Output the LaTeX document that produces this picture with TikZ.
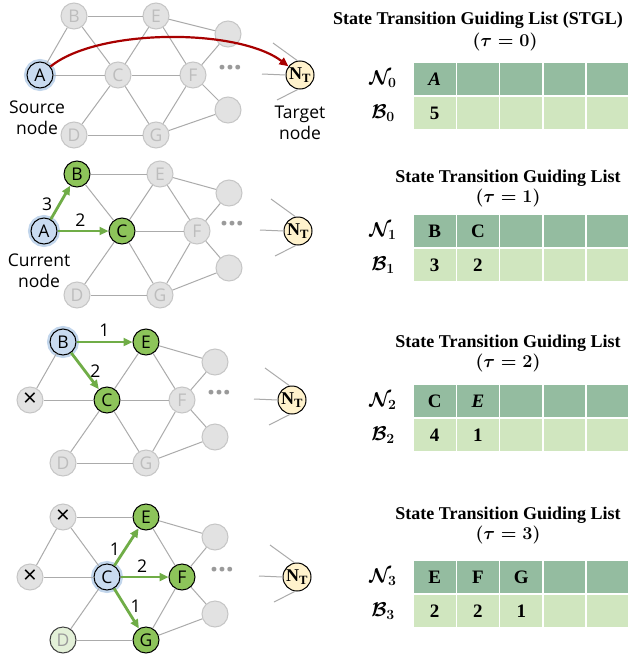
\documentclass[tikz,border=0pt]{standalone}
\usepackage{fix-cm}
\usepackage{amsmath, amssymb}
\usepackage{fontspec}
\setmainfont{Open Sans}
\newfontfamily\tabfont{Liberation Serif}
\usepackage{tikz}
\usetikzlibrary{arrows.meta, calc}

\definecolor{edgegray}{HTML}{ABABAB}
\definecolor{idlefill}{HTML}{E2E2E2}
\definecolor{idledraw}{HTML}{C6C6C6}
\definecolor{idletext}{HTML}{BDBDBD}
\definecolor{srcfill}{HTML}{C9DBF0}
\definecolor{halo}{HTML}{C2D6EC}
\definecolor{reachfill}{HTML}{8DC45A}
\definecolor{spentfill}{HTML}{E3F0D8}
\definecolor{spenttext}{HTML}{9A9A9A}
\definecolor{goalfill}{HTML}{FFF2CC}
\definecolor{hopgreen}{HTML}{70AD47}
\definecolor{leadred}{HTML}{A80000}
\definecolor{dotgray}{HTML}{9A9A9A}
\definecolor{celldark}{HTML}{94BCA0}
\definecolor{celllight}{HTML}{D0E6BF}

\begin{document}
\begin{tikzpicture}[
    x=1pt, y=-1pt,
    vtx/.style={circle, minimum size=26pt, inner sep=0pt, line width=1pt, font=\fontsize{17.5}{18}\selectfont},
    idle/.style={vtx, draw=idledraw, fill=idlefill, text=idletext},
    gone/.style={idle, text=black, font=\fontsize{24}{24}\selectfont},
    src/.style={vtx, draw=black, fill=srcfill, preaction={draw=halo, line width=6pt}},
    reach/.style={vtx, draw=black, fill=reachfill},
    spent/.style={vtx, draw=black!75, fill=spentfill, text=spenttext},
    goal/.style={circle, minimum size=28pt, inner sep=0pt, draw=black, fill=goalfill, line width=1pt, font=\tabfont\bfseries\fontsize{18}{18}\selectfont},
    edge/.style={draw=edgegray, line width=1pt},
    hop/.style={draw=hopgreen, line width=2.8pt, -{Triangle[length=9pt, width=8pt]}},
    lead/.style={draw=leadred, line width=2.2pt, -{Triangle[length=9pt, width=8pt]}},
    wt/.style={font=\fontsize{17.5}{18}\selectfont, inner sep=1pt},
    tag/.style={font=\fontsize{17.5}{21}\selectfont, align=center},
    more/.style={text=dotgray, font=\bfseries\fontsize{28}{28}\selectfont, inner sep=0pt},
    ttl/.style={font=\tabfont\bfseries\fontsize{18}{20}\selectfont\boldmath, inner sep=0pt},
    rowlbl/.style={font=\fontsize{20}{20}\selectfont\boldmath},
    ncell/.style={minimum width=43.3pt, minimum height=34pt, inner sep=0pt, draw=white, line width=1.5pt, fill=celldark, font=\tabfont\bfseries\fontsize{19}{19}\selectfont},
    bcell/.style={ncell, fill=celllight}
]
\useasboundingbox (0,0) rectangle (628,656);
\fill[white] (0,0) rectangle (628,656);

% tau = 0: source and target
\begin{scope}[shift={(118,75)}]
\node[src]  (A1) at (-78,0)   {A};
\node[idle] (B1) at (-44,-59) {B};
\node[idle] (C1) at (0,0)     {C};
\node[idle] (D1) at (-44,60)  {D};
\node[idle] (E1) at (38,-59)  {E};
\node[idle] (F1) at (75,0)    {F};
\node[idle] (G1) at (38,60)   {G};
\node[idle] (U1) at (110,-41) {};
\node[idle] (V1) at (110,35)  {};
\node[more] (M1) at (112,-4)  {···};
\node[goal] (T1) at (182,0)   {N\textsubscript{T}};
\node[tag]  (src1) at (-81,42.5) {Source\\node};
\node[tag]  (tgt1) at (182,47.5) {Target\\node};
\foreach \u/\v in {A/B,A/C,B/E,B/C,C/E,C/F,C/D,C/G,D/G,E/F,E/U,F/U,F/V,F/G,G/V}
  \draw[edge] (\u1) -- (\v1);
\draw[lead] (A1) .. controls (-20,-47) and (120,-47) .. (T1);
\end{scope}

% tau = 1: expand A
\begin{scope}[shift={(122,231)}]
\node[src]   (A2) at (-78,0)   {A};
\node[reach] (B2) at (-45,-57) {B};
\node[reach] (C2) at (0,0)     {C};
\node[idle]  (D2) at (-45,64)  {D};
\node[idle]  (E2) at (38,-57)  {E};
\node[idle]  (F2) at (75,0)    {F};
\node[idle]  (G2) at (38,64)   {G};
\node[idle]  (U2) at (107,-38) {};
\node[idle]  (V2) at (107,37)  {};
\node[more]  (M2) at (110,-4)  {···};
\node[goal]  (T2) at (176,0)   {N\textsubscript{T}};
\node[tag]   (cur2) at (-83,39.5) {Current\\node};
\foreach \u/\v in {B/E,B/C,C/E,C/F,C/D,C/G,D/G,E/F,E/U,F/U,F/V,F/G,G/V}
  \draw[edge] (\u2) -- (\v2);
\draw[hop] (A2) -- node[wt, left=5pt, pos=0.45] {3} (B2);
\draw[hop] (A2) -- node[wt, above=2pt, pos=0.45] {2} (C2);
\end{scope}

% tau = 2: expand B
\begin{scope}[shift={(107,400)}]
\node[gone]  (A3) at (-77,0)   {×};
\node[src]   (B3) at (-44,-58) {B};
\node[reach] (C3) at (0,0)     {C};
\node[idle]  (D3) at (-44,63)  {D};
\node[reach] (E3) at (39,-58)  {E};
\node[idle]  (F3) at (75,0)    {F};
\node[idle]  (G3) at (39,63)   {G};
\node[idle]  (U3) at (108,-38) {};
\node[idle]  (V3) at (108,37)  {};
\node[more]  (M3) at (112,-4)  {···};
\node[goal]  (T3) at (185,0)   {N\textsubscript{T}};
\foreach \u/\v in {A/B,A/C,C/E,C/F,C/D,C/G,D/G,E/F,E/U,F/U,F/V,F/G,G/V}
  \draw[edge] (\u3) -- (\v3);
\draw[hop] (B3) -- node[wt, above=3pt] {1} (E3);
\draw[hop] (B3) -- node[wt, right=3pt] {2} (C3);
\end{scope}

% tau = 3: expand C
\begin{scope}[shift={(107,577)}]
\node[gone]  (A4) at (-77,0)   {×};
\node[gone]  (B4) at (-44,-60) {×};
\node[src]   (C4) at (0,0)     {C};
\node[spent] (D4) at (-44,63)  {D};
\node[reach] (E4) at (39,-60)  {E};
\node[reach] (F4) at (75,0)    {F};
\node[reach] (G4) at (39,63)   {G};
\node[idle]  (U4) at (108,-40) {};
\node[idle]  (V4) at (108,37)  {};
\node[more]  (M4) at (115,-4)  {···};
\node[goal]  (T4) at (190,0)   {N\textsubscript{T}};
\foreach \u/\v in {A/B,A/C,B/E,B/C,C/D,D/G,E/F,E/U,F/U,F/V,F/G,G/V}
  \draw[edge] (\u4) -- (\v4);
\draw[hop] (C4) -- node[wt, left=3pt, pos=0.45] {1} (E4);
\draw[hop] (C4) -- node[wt, above=2pt, pos=0.45] {2} (F4);
\draw[hop] (C4) -- node[wt, right=3pt, pos=0.45] {1} (G4);
\end{scope}

% stubs into the target
\foreach \p in {1,...,4} {
  \draw[edge] ($(T\p)+(-27,-32)$) -- (T\p.100);
  \draw[edge] ($(T\p)+(-38,-1)$) -- (T\p.180);
  \draw[edge] ($(T\p)+(-23,25)$) -- (T\p.262);
}

% guiding lists
\node[ttl, anchor=east] (H0) at (623,20) {State Transition Guiding List (STGL)};
\node[ttl] (S0) at (505,42) {$(\tau = 0)$};
\node[rowlbl] (N0) at (383,79)  {$\mathcal{N}_0$};
\node[rowlbl] (B0) at (383,113) {$\mathcal{B}_0$};
\foreach \t [count=\i from 0] in {\textit{A},,,,}
  \node[ncell] (n0c\i) at (434.65+43.3*\i,79) {\t};
\foreach \t [count=\i from 0] in {5,,,,}
  \node[bcell] (b0c\i) at (434.65+43.3*\i,113) {\t};

\node[ttl] (H1) at (508,178) {State Transition Guiding List};
\node[ttl] (S1) at (508,198) {$(\tau = 1)$};
\node[rowlbl] (N1) at (383,231) {$\mathcal{N}_1$};
\node[rowlbl] (B1) at (383,265) {$\mathcal{B}_1$};
\foreach \t [count=\i from 0] in {B,C,,,}
  \node[ncell] (n1c\i) at (434.65+43.3*\i,231) {\t};
\foreach \t [count=\i from 0] in {3,2,,,}
  \node[bcell] (b1c\i) at (434.65+43.3*\i,265) {\t};

\node[ttl] (H2) at (508,343) {State Transition Guiding List};
\node[ttl] (S2) at (508,363) {$(\tau = 2)$};
\node[rowlbl] (N2) at (383,401) {$\mathcal{N}_2$};
\node[rowlbl] (B2) at (383,435) {$\mathcal{B}_2$};
\foreach \t [count=\i from 0] in {C,\textit{E},,,}
  \node[ncell] (n2c\i) at (434.65+43.3*\i,401) {\t};
\foreach \t [count=\i from 0] in {4,1,,,}
  \node[bcell] (b2c\i) at (434.65+43.3*\i,435) {\t};

\node[ttl] (H3) at (508,515) {State Transition Guiding List};
\node[ttl] (S3) at (508,535) {$(\tau = 3)$};
\node[rowlbl] (N3) at (383,577) {$\mathcal{N}_3$};
\node[rowlbl] (B3) at (383,611) {$\mathcal{B}_3$};
\foreach \t [count=\i from 0] in {E,F,G,,}
  \node[ncell] (n3c\i) at (434.65+43.3*\i,577) {\t};
\foreach \t [count=\i from 0] in {2,2,1,,}
  \node[bcell] (b3c\i) at (434.65+43.3*\i,611) {\t};
\end{tikzpicture}
\end{document}
